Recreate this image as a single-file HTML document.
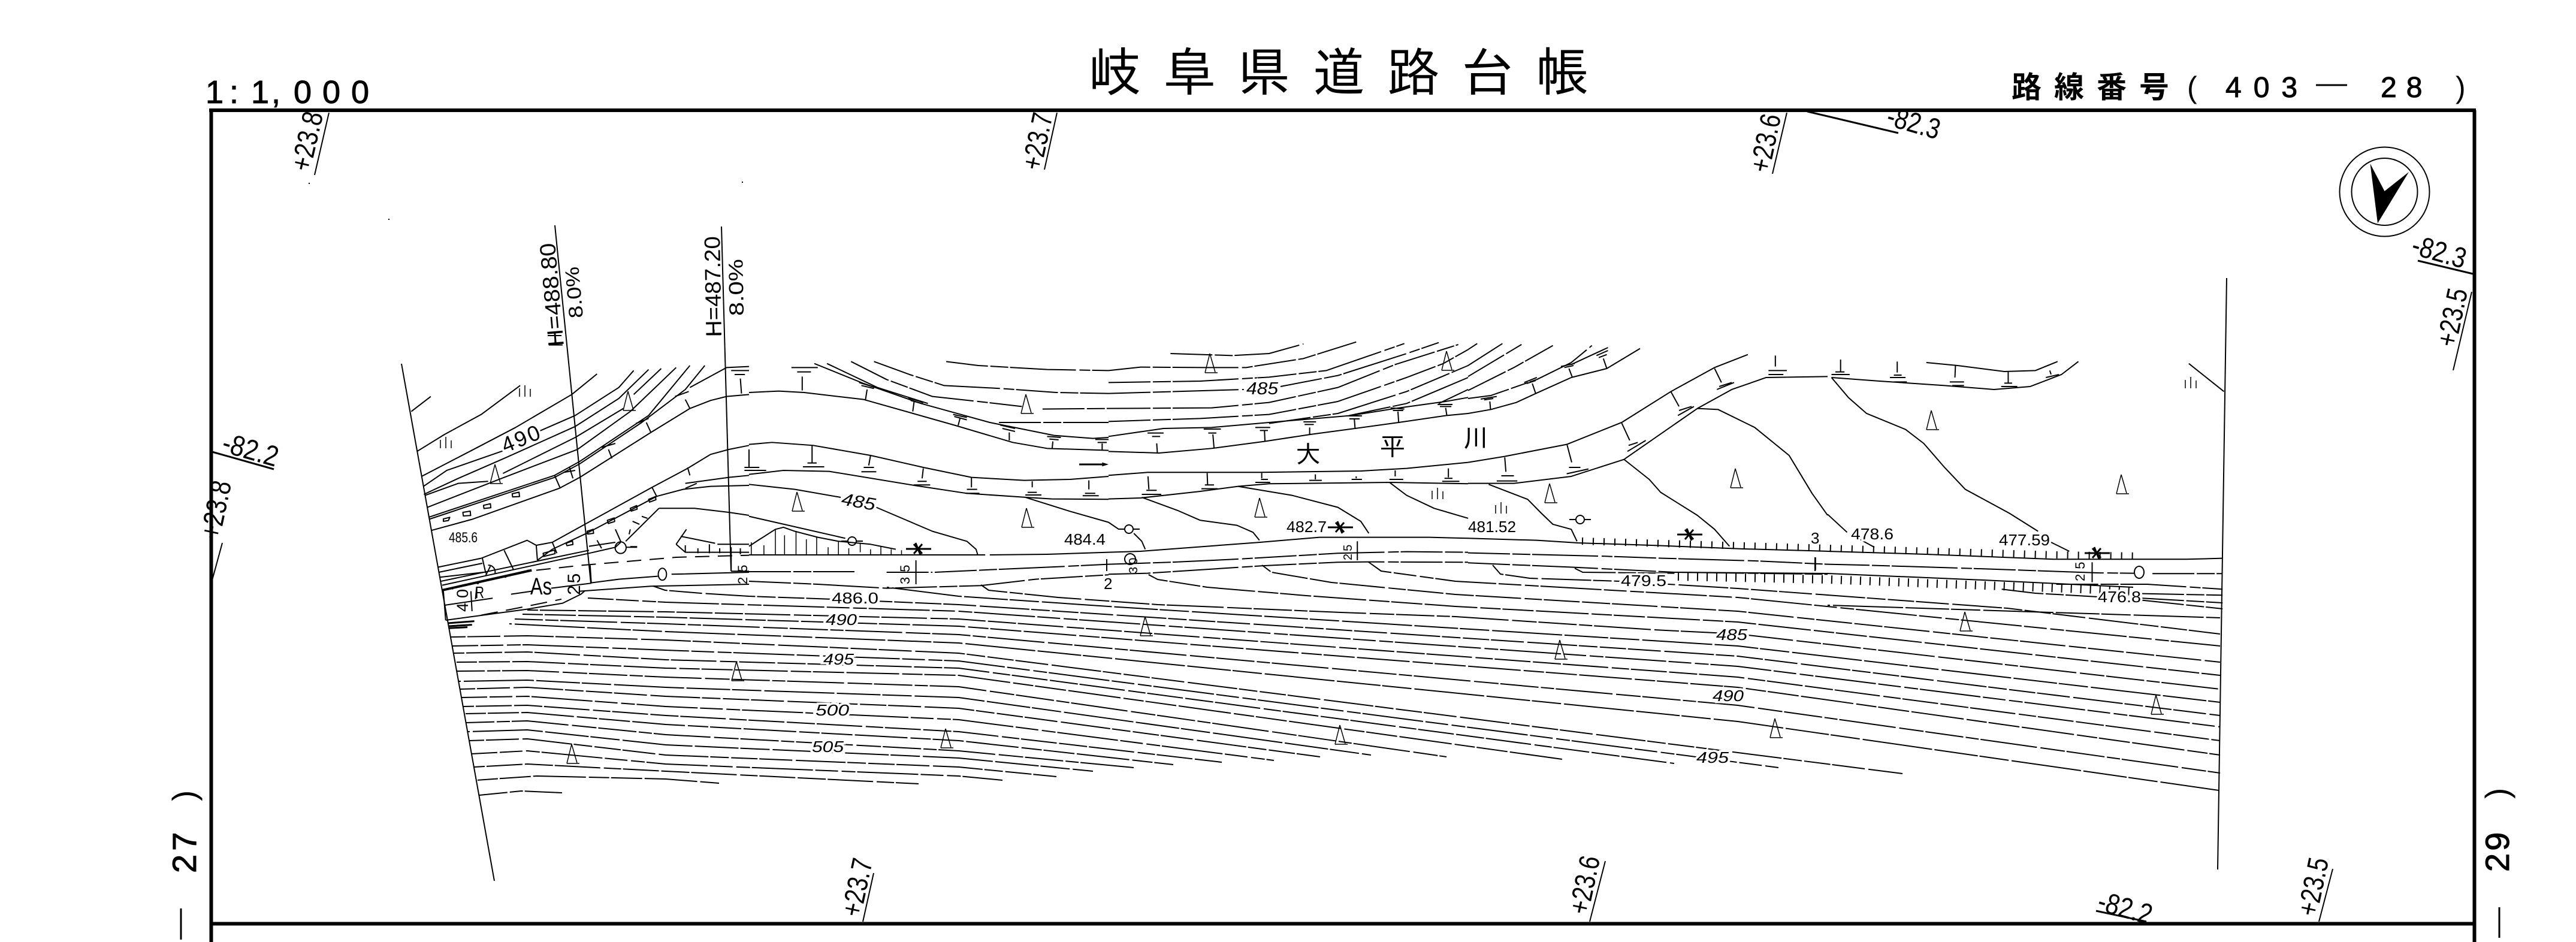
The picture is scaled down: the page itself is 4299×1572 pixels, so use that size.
<!DOCTYPE html>
<html lang="ja"><head><meta charset="utf-8"><title>岐阜県道路台帳</title>
<style>
html,body{margin:0;padding:0;background:#fff;width:4299px;height:1572px;overflow:hidden}
svg{display:block}
path,line,ellipse,circle{fill:none;stroke:#000;stroke-width:2;vector-effect:non-scaling-stroke;stroke-linejoin:round}
.d{stroke-dasharray:70 4 30 3 110 6 18 3}
.c path:nth-child(6n+1){stroke-dasharray:64 4 22 3 95 6 41 3;stroke-dashoffset:17}
.c path:nth-child(6n+2){stroke-dasharray:88 5 34 3 52 4;stroke-dashoffset:91}
.c path:nth-child(6n+3){stroke-dasharray:47 3 76 6 29 3 60 4;stroke-dashoffset:143}
.c path:nth-child(6n+4){stroke-dasharray:102 4 38 6 23 3;stroke-dashoffset:59}
.c path:nth-child(6n+5){stroke-dasharray:55 6 83 3 31 4 44 3;stroke-dashoffset:201}
.c path:nth-child(6n){stroke-dasharray:73 3 49 5 117 4;stroke-dashoffset:121}
.b{stroke-width:6}
.m{stroke-width:3}
.f{fill:#000;stroke:none}
.s path,.s ellipse,.s circle{stroke-width:1.500}
text{font-family:"Liberation Sans","IPAGothic","Noto Sans CJK JP",sans-serif;fill:#000}
.h{paint-order:stroke;stroke:#fff;stroke-width:7px}
.w{stroke:#000;stroke-width:1px}
.cjk{font-family:"IPAGothic","Noto Sans CJK JP",sans-serif}
.bold{font-family:"Noto Sans CJK JP","IPAGothic",sans-serif;font-weight:700}
</style></head><body>
<svg xmlns="http://www.w3.org/2000/svg" width="4299" height="1572" viewBox="0 0 4299 1572">
<defs>
<g id="t"><path style="stroke-width:1.500px" d="M-10 0L-2 -32M-2 -32L7 -1M-10 0H11"/></g>
<g id="i"><path style="stroke-width:1.500px" d="M-9 -9V5M0 -14V5M9 -8V5"/></g>
<g id="o"><circle r="7"/><path d="M-18 0H-7M7 0H18"/></g>
<g id="x"><path d="M-20 0H22M-7 -8L7 8M-7 8L7 -8M-4 -10L4 10" class="m"/></g>
</defs>

<!-- frame -->
<path class="b" d="M349 184H4132M352.500 184V1572M4129.500 184V1572M352 1541.500H4129"/>
<path class="m" d="M302 1516V1568M4171 1514V1565"/>

<!-- heading -->
<text class="cjk" x="1817" y="152" font-size="88" letter-spacing="36.400">岐阜県道路台帳</text>
<text class="w" x="343 383 419 453 490 538 586" y="172" font-size="54">1:1,000</text>
<text class="bold" x="3357" y="163" font-size="50" letter-spacing="21">路線番号</text>
<text x="3650" y="163" font-size="50">(</text>
<text class="w" x="3714" y="162" font-size="48" letter-spacing="20">403</text>
<path class="m" d="M3865 142H3917"/>
<text class="w" x="3973" y="162" font-size="48" letter-spacing="16">28</text>
<text x="4098" y="163" font-size="50">)</text>

<text class="w" transform="translate(327,1457) rotate(-90)" font-size="56" letter-spacing="6">27</text>
<text transform="translate(326,1337) rotate(-90)" font-size="55">)</text>
<text class="w" transform="translate(4187,1455) rotate(-90)" font-size="56" letter-spacing="4">29</text>
<text transform="translate(4186,1333) rotate(-90)" font-size="55">)</text>

<!-- grid marks -->
<path d="M549 188L525 292M1764 188L1743 283M2982 188L2958 290M4125 487L4094 618M371 906L353 972M1458 1457L1440 1538M2679 1437L2653 1538M3893 1450L3870 1538"/>
<path class="m" d="M3016 186L3168 222M4035 435L4127 457M354 754L457 783M3498 1520L3582 1538"/>
<g font-size="48">
<text transform="translate(517,288) rotate(-77)" textLength="100" lengthAdjust="spacingAndGlyphs">+23.8</text>
<text transform="translate(1737,286) rotate(-78)" textLength="96" lengthAdjust="spacingAndGlyphs">+23.7</text>
<text transform="translate(2952,290) rotate(-78)" textLength="98" lengthAdjust="spacingAndGlyphs">+23.6</text>
<text transform="translate(4098,581) rotate(-78)" textLength="98" lengthAdjust="spacingAndGlyphs">+23.5</text>
<text transform="translate(366,902) rotate(-78)" textLength="98" lengthAdjust="spacingAndGlyphs">+23.8</text>
<text transform="translate(1436,1532) rotate(-78)" textLength="98" lengthAdjust="spacingAndGlyphs">+23.7</text>
<text transform="translate(2650,1528) rotate(-78)" textLength="98" lengthAdjust="spacingAndGlyphs">+23.6</text>
<text transform="translate(3866,1531) rotate(-78)" textLength="98" lengthAdjust="spacingAndGlyphs">+23.5</text>
<text transform="translate(3146,208) rotate(16)" textLength="90" lengthAdjust="spacingAndGlyphs">-82.3</text>
<text transform="translate(4022,423) rotate(16)" textLength="92" lengthAdjust="spacingAndGlyphs">-82.3</text>
<text transform="translate(368,753) rotate(16)" textLength="95" lengthAdjust="spacingAndGlyphs">-82.2</text>
<text transform="translate(3498,1518) rotate(16)" textLength="92" lengthAdjust="spacingAndGlyphs">-82.2</text>
</g>

<!-- compass -->
<ellipse cx="3979.500" cy="320" rx="75" ry="74.500"/>
<ellipse cx="3979.500" cy="320" rx="55" ry="56"/>
<path class="f" d="M3955.500 273L3979.500 319L4020 287L3968 372.500Z"/>
<path class="f" d="M515 305h2v2h-2zM1238 303h2v2h-2zM648 365h2v2h-2z"/>

<!-- cut and H lines -->
<path d="M670 607L825 1470M3716 464L3701 1451M926 376L986 973M1204 378L1220 953"/>
<g font-size="37">
<text transform="translate(941,577) rotate(-95)" textLength="173" lengthAdjust="spacingAndGlyphs">H=488.80</text>
<text transform="translate(1204,562) rotate(-91)" textLength="168" lengthAdjust="spacingAndGlyphs">H=487.20</text>
<text transform="translate(973,530) rotate(-95)" font-size="33" textLength="86" lengthAdjust="spacingAndGlyphs">8.0%</text>
<text transform="translate(1241,527) rotate(-91)" font-size="34" textLength="95" lengthAdjust="spacingAndGlyphs">8.0%</text>
</g>

<!-- left sheet -->
<g transform="translate(650,550) scale(.3827,.3333)">
<path d="M95 410L180 335M120 610L240 525L400 425L570 280M140 735L350 610L550 490L795 325L905 222M148 785L250 705L500 605M640 515L810 430L1000 290L1065 205M150 825L300 745L500 645L810 485L1000 345L1130 200M155 830L300 770L430 760M495 720L810 540L1020 395M1065 325L1185 195M165 890L500 740L820 600L1050 410L1250 190M170 940L720 730L830 660L1130 430L1310 180"/>
<path d="M172 950L720 740L830 672L1100 465L1290 300L1375 180M185 1005L360 950L740 795L830 740L1140 515L1310 395L1400 355L1470 335L1568 325M1310 290L1470 190L1568 185"/>
<path d="M720 730L745 795M955 600L970 645M1120 465L1140 515M1290 350L1310 395M722 30V75M690 30H750M695 77H755M1385 25H1445M1415 0V25M1530 245L1535 320M1505 225H1550M1490 205H1568M760 715L810 705M785 690L800 745M925 590L985 570M1075 470L1130 445M1245 335L1305 310"/>
<path d="M235 948l28 -8l-6 16l-22 4zM320 915l32 -6l2 22l-32 2zM410 880l30 -8l2 20l-30 4zM535 822l30 -8l2 22l-30 2zM862 1010l26 -10l2 20l-26 4zM950 955l30 -12l2 18l-28 10zM1050 895l28 -14l2 18l-26 10zM1130 850l30 -14l2 16l-28 12zM770 1070l28 -12l2 18l-26 6zM670 1120l50 -16l2 18l-50 14z"/>
<path d="M400 1145L600 1055L640 1080L710 1065L860 970L1145 790L1300 695L1400 625L1480 600L1568 580M645 1155L710 1100L860 1020L1165 835L1280 800L1400 785L1568 780M1145 790L1165 835M1300 690L1310 730M1290 770L1480 740L1568 730M1290 795L1340 770M1175 895L1030 1060M1175 895H1330L1480 915L1568 930"/>
<path d="M210 1190L400 1145M215 1215L405 1170M220 1240L410 1215M500 1105L540 1200M640 1080L645 1155M405 1145L420 1220M710 1065L730 1120"/>
<path d="M430 1180a28 34 0 0 1 30 42M420 1230L440 1185"/>
<path class="m" style="stroke-width:4px" d="M230 1305L620 1205"/>
<path d="M230 1280L870 1120L985 1090M225 1260L870 1105M870 1085L985 1065"/>
<circle cx="275" cy="1297" r="4" class="f"/><circle cx="385" cy="1270" r="5" class="f"/><circle cx="505" cy="1238" r="5" class="f"/><circle cx="605" cy="1208" r="6" class="f"/>
<path d="M640 1205L840 1180L1250 1140L1568 1130" stroke-dasharray="24 14"/>
<path d="M875 1180L880 1270M880 1268L1000 1250L1170 1235M1230 1225L1568 1215M240 1380L450 1345M530 1325L620 1310M705 1295L880 1270M830 1310L1140 1285L1568 1275M245 1455L600 1400L755 1370L835 1325L850 1310M235 1310L245 1455"/>
<path d="M400 1430L600 1385L750 1350" stroke-dasharray="28 14"/>
<path d="M380 1290L375 1350M355 1310L360 1410M985 1000L1010 1065M1045 1025L1050 1000M1060 960L1090 975M1100 935L1125 945M905 1055L925 1095M1250 1075L1295 1000M1250 1075L1290 1115H1568M1270 1035L1420 1070M1430 1075H1568M1290 1080V1115M1345 1095V1120M1395 1075V1120M1440 1095V1120M1490 1090V1210M1530 1095V1125M1490 1210H1568"/>
<path class="m" d="M255 1470L370 1460M258 1485L360 1478M260 1495L340 1490"/>
<path d="M1008 1065L985 1090M1050 1087H1080"/>
<ellipse cx="1008" cy="1092" rx="24" ry="29"/>
<ellipse cx="1190" cy="1225" rx="18" ry="30"/>
<path d="M1030 1090H1080"/>
</g>

<!-- Z8 -->
<g transform="translate(1250,550) scale(.3827,.3333)">
<path d="M0 315L130 308L240 315L500 350L900 480L1150 565L1300 595L1568 605M285 170L500 270L750 370L1050 465L1330 530L1500 545L1568 540M340 170L560 290L780 370"/>
<path class="d" d="M445 160L600 250L800 335L1000 360L1190 385M1280 398L1568 395M545 160L700 225L850 280L1100 295L1340 315L1568 320M860 160L1000 180L1300 200L1568 205M1090 465H1568"/>
<path d="M0 575L100 565L280 580L530 630L760 690L970 740L1200 755L1400 750L1568 735M0 725L150 705L350 710L720 780L950 820L1210 840L1320 848L1568 850"/>
<path d="M275 580V665M255 668H295M235 687H328M530 630L522 680M500 690H545M490 712H555M760 695L755 745M735 760H775M718 778H790M970 740V790M950 800H995M945 820H1005M1235 760V790M1215 815H1255M1205 828H1275M1482 755V800M1465 820H1510M1455 832H1525"/>
<path d="M232 235V305M185 190H300M210 212H270M515 300L508 350M480 265L550 290M490 280L545 295M720 360L714 410M695 342L760 365M705 355L760 372M920 445L912 480M890 425L950 440M895 435L950 452M1135 515V555M1095 478L1160 495M1105 495L1160 510M1325 560L1322 595M1300 535L1360 540M1310 548L1350 552M1540 570V605M1510 550H1568M1520 565H1560M0 600V690M-20 690H45M-20 705H75"/>
<path d="M0 775L200 800L400 840M555 890L800 1010L950 1060L990 1100L998 1130M0 1128H1030M1050 1128L1300 1125L1568 1115M0 935L420 1045M0 1085L40 1055L115 1000L150 990L200 1010L300 1040L390 1060L530 1075L640 1100"/>
<path style="stroke-width:1.500px" d="M10 1065V1128M65 1080V1128M115 1000V1128M155 1030V1128M205 1010V1128M250 1050V1128M295 1040V1128M345 1090V1128M390 1060V1128M435 1095V1128M485 1070V1115M530 1100V1128M575 1085V1128M620 1100V1128M665 1105V1128"/>
<path class="d" d="M0 1212H460M600 1215H800M810 1215L1000 1205L1390 1185L1568 1175M0 1260L300 1275L600 1295L1010 1282L1250 1250L1568 1228"/>
<path d="M1205 840L1400 910L1568 965M728 1155V1275"/>
<path class="m" d="M1440 675H1540"/><path class="f" d="M1540 665L1568 675L1540 685Z"/>
</g>

<!-- Z9 -->
<g transform="translate(1850,550) scale(.3827,.3333)">
<path d="M0 610L220 618L450 595L680 560L880 525L1075 495L1265 465L1475 430L1568 420M0 535L240 495L450 490L700 465L1060 430L1250 395L1470 360L1568 340"/>
<path class="d" d="M270 120L540 130L700 120L850 72M0 205L140 188L420 190L600 190L850 145L1080 62M0 265L400 258L700 238L950 205L1290 70M0 320L590 300M750 285L1000 230L1300 120L1440 65M0 395L450 392L700 365L1000 290L1250 175L1525 75M0 460L400 445L700 425L1000 360L1300 240L1460 170L1568 100M700 470L1000 420L1300 310L1568 180M1050 430L1300 370L1568 240M1440 370L1568 300"/>
<path d="M210 570L213 618M170 518H240M190 535H225M455 525L460 592M435 518H470M415 498H490M680 505L682 558M640 490H705M660 505H695M877 490V528M850 462H905M855 475H895M1072 450L1075 495M1040 432H1105M1050 447H1095M1262 410L1265 462M1230 392L1290 398M1240 405H1285M1470 392L1475 428M1435 375H1500M1445 385H1495"/>
<path d="M0 730L170 715L400 715L660 715L1100 708L1300 695L1568 665M0 848L140 843L400 810L565 785L700 772L1230 765L1568 772"/>
<path d="M172 735L176 800M145 825H230M165 805H210M430 718L432 775M405 797H475M420 778H460M668 718V745M640 765H705M665 750H695M902 725V750M875 755H930M1080 735V745M1060 750H1105M1250 705V735M1225 750H1285M1482 695V740M1455 760H1530M1465 745H1500"/>
<path d="M145 840L300 905L400 955L560 980L630 1015L658 1055M565 785L800 830L1000 890L1100 960L1135 1020M1225 765L1300 830L1420 895L1568 945M0 965L45 1000M110 1020L145 1060L160 1100"/>
<path d="M0 1115L140 1110L660 1065L920 1040L1400 1040L1568 1045"/>
<path class="d" d="M0 1175L270 1165L550 1150L1000 1120L1300 1112L1568 1115M0 1225L170 1220L680 1182L1000 1165L1150 1163L1568 1165"/>
<path d="M1085 1060V1155"/>
</g>

<!-- Z10 -->
<g transform="translate(2450,550) scale(.3827,.3333)">
<path class="d" d="M0 100L40 70M0 180L150 70M0 235L240 70M0 305L200 190L370 80M0 345L100 330L300 250L450 165L540 80M450 175L610 90"/>
<path d="M0 420L100 400L210 365L295 320L450 240L605 195L750 95"/>
<path d="M95 360L98 400M280 270L295 320M440 195L455 240M590 145L605 195M55 348L125 335M70 352L110 345M245 265L300 240M255 270L295 255M405 185L465 170M420 190L460 180M560 130L610 105M570 140L605 125"/>
<path d="M0 665L160 635L430 575L670 465L885 310L1075 190L1220 125M0 770L200 770L450 735L680 650L1000 395L1150 300L1300 240L1568 235"/>
<path d="M160 640L165 712M145 732H200M125 758H215M432 578L452 665M440 690H490M430 722L525 698M670 468L705 555M700 580L740 565M695 610L775 555M885 312L920 385M920 405L975 385M915 430L985 385M1075 195L1105 265M1095 285L1150 265M1085 300L1160 265M1340 130V185M1310 205H1390M1310 225H1375"/>
<path d="M680 650L790 750L840 815L1000 930L1075 1000L1140 1085M1000 395L1090 400L1250 490L1400 630L1500 820L1568 930M90 775L260 850L320 920L370 975L450 1000L475 1060"/>
<path d="M0 1045L300 1055L480 1068L800 1080L1200 1098L1568 1110"/>
<path class="d" d="M0 1118L600 1135L850 1145L1250 1158L1568 1175M0 1168L460 1190L900 1215L1568 1225M465 1195L500 1215L900 1220M1515 1140V1205"/>
</g>

<!-- Z11 -->
<g transform="translate(3050,550) scale(.4337,.3333)">
<path d="M15 240L200 258L450 280L640 300L780 285L900 225L965 160M380 165L500 180L680 210L800 205L885 160"/>
<path d="M50 150V212M15 225H85M30 212H65M268 160V215M240 240H300M255 228H285M255 262H305M492 180L490 240M470 262H525M480 280H525M695 212V265M680 268H710M668 285H730M855 205L860 225M840 240L890 225"/>
<path d="M15 240L80 340L150 420L300 500L370 570L450 690L530 800L700 920L810 1010M860 1065L930 1110M0 925L75 1015M110 1040L180 1090M1390 170L1525 310"/>
<path d="M0 1110L380 1125L870 1150L1380 1150L1520 1145"/>
<path class="d" d="M0 1175L160 1180L600 1198L1040 1218L1180 1220M1250 1222H1520M670 1300L800 1320L1040 1338M880 1275H1230L1520 1300M1210 1322L1520 1330M1210 1345L1520 1368M1210 1355L1520 1398"/>
<path d="M1018 1165V1265"/>
</g>

<!-- road hatch -->
<path style="stroke-width:12px;stroke-dasharray:2 16" d="M2640 903L3050 915L3430 926L3570 928"/>
<path style="stroke-width:14px;stroke-dasharray:2 14" d="M2800 962L3050 967L3310 977L3500 984L3560 987"/>
<path d="M2795 955L3050 957L3310 968L3560 980"/>

<!-- lower contours -->
<g class="c">
<path d="M800 1327L870 1320L938 1323"/>
<path d="M795 1302L896 1295L1111 1300L1200 1307"/>
<path d="M791 1280L880 1275L1111 1287L1533 1308"/>
<path d="M787 1258L880 1253L1111 1275L1600 1295L1673 1302"/>
<path d="M783 1236L880 1233L1111 1260L1600 1280L1763 1296"/>
<path d="M780 1221L880 1218L1111 1243L1600 1265L1824 1287"/>
<path d="M778 1206L880 1203L1111 1226L1600 1253L1892 1281"/>
<path d="M775 1191L880 1189L1111 1209L1600 1236L1958 1276"/>
<path d="M773 1179L880 1177L1111 1194L1600 1221L2039 1272"/>
<path d="M770 1164L880 1162L1111 1179L1600 1201L2126 1269"/>
<path d="M768 1150L880 1147L1111 1162L1600 1182L2203 1263"/>
<path d="M765 1137L880 1135L1111 1147L1600 1164L2288 1260"/>
<path d="M762 1120L880 1119L1111 1130L1600 1146L2414 1263"/>
<path d="M760 1105L880 1104L1111 1115L1600 1127L2607 1267"/>
<path d="M757 1090L880 1088L1111 1101L1600 1115L2794 1274"/>
<path d="M755 1078L880 1076L1111 1085L1600 1103L2968 1281"/>
<path d="M752 1063L880 1061L1111 1068L1600 1090L3175 1291"/>
<path d="M850 1041L1111 1054L1600 1073L2900 1204L3703 1319"/>
<path d="M859 1033L1111 1041L1600 1059L2900 1177L3705 1290"/>
<path d="M870 1025L1111 1030L1600 1045L2900 1147L3705 1260"/>
<path d="M880 1018L1111 1021L1600 1033L2900 1130L3705 1236"/>
<path d="M981 998L1111 1005L1600 1020L2900 1112L3705 1213"/>
<path d="M1090 978L1110 985L1170 990L1250 995L1390 1000L1600 1009L2900 1095L3705 1194"/>
<path d="M1480 980L1600 995L1850 1012L2900 1078L3705 1172"/>
<path d="M1637 976L1650 985L1766 997L1932 1009L2006 1012L2238 1022L2429 1029L2761 1051L2900 1058L3705 1150"/>
<path d="M1915 958L1932 967L2015 980L2180 994L2429 1012L2900 1038L3705 1127"/>
<path d="M2106 943L2122 955L2222 972L2429 992L2900 1020L3705 1105"/>
<path d="M2284 938L2305 953L2429 970L2900 997L3705 1078"/>
<path d="M2491 943L2504 958L2553 965L2703 970L2900 982L3350 1015L3705 1058"/>
<path d="M3050 1010L3705 1031"/>
</g>

<!-- symbols -->
<g>
<use href="#t" x="1050" y="685"/><use href="#t" x="828" y="807"/><use href="#t" x="2021" y="622"/><use href="#t" x="2416" y="618"/><use href="#t" x="1714" y="690"/><use href="#t" x="1332" y="853"/><use href="#t" x="1715" y="880"/><use href="#t" x="2104" y="863"/><use href="#t" x="2588" y="839"/><use href="#t" x="2898" y="814"/><use href="#t" x="3225" y="717"/><use href="#t" x="3542" y="824"/><use href="#t" x="1231" y="1136"/><use href="#t" x="956" y="1274"/><use href="#t" x="1580" y="1248"/><use href="#t" x="1913" y="1061"/><use href="#t" x="2605" y="1100"/><use href="#t" x="2238" y="1242"/><use href="#t" x="3281" y="1053"/><use href="#t" x="3600" y="1192"/><use href="#t" x="2964" y="1231"/>
<use href="#i" x="876" y="657"/><use href="#i" x="744" y="743"/><use href="#i" x="2399" y="828"/><use href="#i" x="2505" y="852"/><use href="#i" x="3656" y="643"/>
<use href="#o" x="1422" y="903"/><use href="#o" x="1884" y="883"/><use href="#o" x="2637" y="867"/>
<use href="#x" x="1532" y="916"/><use href="#x" x="2236" y="880"/><use href="#x" x="2819" y="892"/><use href="#x" x="3499" y="923"/>
<ellipse cx="1886" cy="933" rx="9" ry="9"/><ellipse cx="3570" cy="955" rx="8" ry="10"/>
<path d="M3029 930V953M1847 933V953"/>
</g>

<!-- labels -->
<g font-size="26">
<text class="h" transform="translate(843,756) rotate(-22)" font-size="36" letter-spacing="3">490</text>
<text x="749" y="905" font-size="24" textLength="48" lengthAdjust="spacingAndGlyphs">485.6</text>
<text class="h" transform="translate(1403,842) rotate(10)" font-size="29" font-style="italic" textLength="57" lengthAdjust="spacingAndGlyphs">485</text>
<text class="h" x="2080" y="658" font-size="29" font-style="italic" textLength="53" lengthAdjust="spacingAndGlyphs">485</text>
<text class="h" x="1776" y="909" textLength="69" lengthAdjust="spacingAndGlyphs">484.4</text>
<text class="h" x="2147" y="888" textLength="67" lengthAdjust="spacingAndGlyphs">482.7</text>
<text class="h" x="2450" y="888" textLength="80" lengthAdjust="spacingAndGlyphs">481.52</text>
<text class="h" x="3089" y="900" textLength="71" lengthAdjust="spacingAndGlyphs">478.6</text>
<text class="h" x="3336" y="910" textLength="85" lengthAdjust="spacingAndGlyphs">477.59</text>
<text class="h" x="2705" y="978" textLength="76" lengthAdjust="spacingAndGlyphs">479.5</text>
<text class="h" x="3501" y="1005" textLength="72" lengthAdjust="spacingAndGlyphs">476.8</text>
<text class="h" x="1388" y="1007" textLength="78" lengthAdjust="spacingAndGlyphs">486.0</text>
<text class="h" x="1378" y="1043" font-style="italic" textLength="52" lengthAdjust="spacingAndGlyphs">490</text>
<text class="h" x="1374" y="1109" font-style="italic" textLength="51" lengthAdjust="spacingAndGlyphs">495</text>
<text class="h" x="1361" y="1194" font-style="italic" textLength="56" lengthAdjust="spacingAndGlyphs">500</text>
<text class="h" x="1355" y="1255" font-style="italic" textLength="53" lengthAdjust="spacingAndGlyphs">505</text>
<text class="h" x="2864" y="1068" font-style="italic" textLength="52" lengthAdjust="spacingAndGlyphs">485</text>
<text class="h" x="2858" y="1170" font-style="italic" textLength="52" lengthAdjust="spacingAndGlyphs">490</text>
<text class="h" x="2831" y="1273" font-style="italic" textLength="54" lengthAdjust="spacingAndGlyphs">495</text>
<text x="3022" y="907">3</text>
<text x="1842" y="983">2</text>
<text x="885" y="992" font-size="40" textLength="36" lengthAdjust="spacingAndGlyphs">As</text>
<text x="793" y="998" font-size="28" textLength="15" lengthAdjust="spacingAndGlyphs">R</text>
<text transform="translate(968,993) rotate(-90)" font-size="30" letter-spacing="3">25</text>
<text transform="translate(781,1021) rotate(-90)" font-size="27" letter-spacing="8">40</text>
<text transform="translate(1518,975) rotate(-90)" font-size="22" letter-spacing="8">35</text>
<text transform="translate(1247,975) rotate(-90)" font-size="22" letter-spacing="8">25</text>
<text transform="translate(2256,935) rotate(-90)" font-size="20" letter-spacing="4">25</text>
<text transform="translate(3479,970) rotate(-90)" font-size="22" letter-spacing="8">25</text>
<text transform="translate(1898,957) rotate(-90)" font-size="20" letter-spacing="4">30</text>
</g>
<g class="cjk" font-size="42">
<text class="cjk" x="2162" y="773">大</text>
<text class="cjk" x="2303" y="760">平</text>
<text class="cjk" x="2442" y="746">川</text>
</g>
</svg>
</body></html>
